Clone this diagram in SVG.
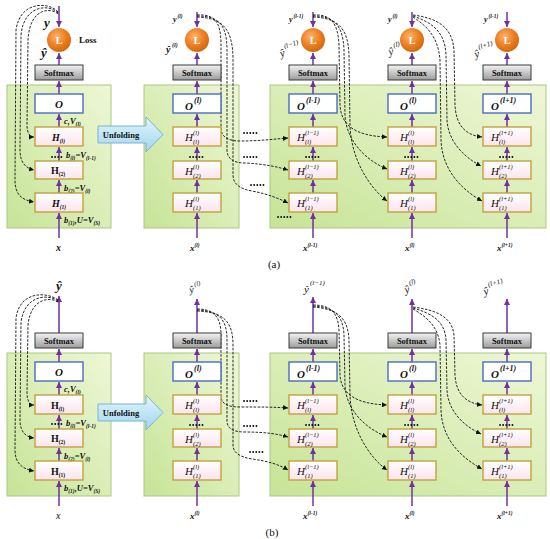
<svg xmlns="http://www.w3.org/2000/svg" width="550" height="539" viewBox="0 0 550 539">
<defs>
<linearGradient id="gp" x1="0" y1="1" x2="1" y2="0"><stop offset="0" stop-color="#c6e497"/><stop offset="1" stop-color="#eef7d6"/></linearGradient>
<linearGradient id="gs" x1="0" y1="0" x2="0" y2="1"><stop offset="0" stop-color="#f4f4f4"/><stop offset="1" stop-color="#9c9c9c"/></linearGradient>
<linearGradient id="gh" x1="0" y1="0" x2="0" y2="1"><stop offset="0" stop-color="#ffffff"/><stop offset="1" stop-color="#fbe4ed"/></linearGradient>
<linearGradient id="gu" x1="0" y1="0" x2="0" y2="1"><stop offset="0" stop-color="#e3f5fc"/><stop offset="1" stop-color="#9fd6ee"/></linearGradient>
<radialGradient id="gl" cx="0.4" cy="0.35" r="0.7"><stop offset="0" stop-color="#fbb36a"/><stop offset="0.6" stop-color="#ec7b1e"/><stop offset="1" stop-color="#c8680f"/></radialGradient>
<marker id="pa" markerUnits="userSpaceOnUse" markerWidth="7" markerHeight="6" refX="6" refY="3" orient="auto"><path d="M0,0 L6,3 L0,6 Z" fill="#7030a0"/></marker>
<marker id="ba" markerUnits="userSpaceOnUse" markerWidth="6" markerHeight="5" refX="5" refY="2.5" orient="auto"><path d="M0,0 L5,2.5 L0,5 Z" fill="#111"/></marker>
</defs>
<style>
.panel{fill:url(#gp);stroke:#a9c97e;stroke-width:1}
.sm{fill:url(#gs);stroke:#3a3a3a;stroke-width:1}
.ob{fill:#fff;stroke:#4a6bc4;stroke-width:1.4}
.hb{fill:url(#gh);stroke:#c4a13c;stroke-width:1.4}
.loss{fill:url(#gl)}
.unf{fill:url(#gu);stroke:#7ab3d3;stroke-width:1}
.pl{stroke:#7030a0;stroke-width:1.5;fill:none;marker-end:url(#pa)}
.dl{stroke:#111;stroke-width:0.9;fill:none;stroke-dasharray:2.6 1.4;marker-end:url(#ba)}
.dots{stroke:#111;stroke-width:1.8;stroke-dasharray:0.1 3;stroke-linecap:round;fill:none}
text{font-family:"Liberation Serif",serif;fill:#111}
.b{font-weight:bold}
.i{font-style:italic}
.bi{font-weight:bold;font-style:italic}
.smt{font-weight:bold;font-size:8.5px;text-anchor:middle}
.L{font-weight:bold;font-size:10px;fill:#fff;text-anchor:middle}
.H{font-style:italic;font-size:11px}
.s{font-style:italic;font-size:6.5px}
.cap{font-size:11px;text-anchor:middle}
</style>

<!-- panels -->
<g id="panels">
<rect class="panel" x="7" y="85" width="104" height="143"/>
<rect class="panel" x="144" y="85" width="95" height="143"/>
<rect class="panel" x="270" y="85" width="276" height="143"/>
<rect class="panel" x="7" y="353" width="104" height="143"/>
<rect class="panel" x="144" y="353" width="95" height="143"/>
<rect class="panel" x="270" y="353" width="276" height="143"/>
</g>

<!-- unfolding arrows -->
<g id="a-unfolding"><path class="unf" d="M98,126 H146 V117 L163,134.5 L146,152 V143 H98 Z"/><text class="b" x="121" y="138" font-size="8.5" text-anchor="middle" fill="#1f3050">Unfolding</text></g>
<g id="b-unfolding"><path class="unf" d="M98,404 H146 V395 L163,412.5 L146,430 V421 H98 Z"/><text class="b" x="121" y="416" font-size="8.5" text-anchor="middle" fill="#1f3050">Unfolding</text></g>

<!-- connectors -->
<g id="connectors">
<!-- (a) purple column arrows -->
<path class="pl" d="M59,6 V27"/><path class="pl" d="M59,65 V53"/><path class="pl" d="M59,94 V81"/><path class="pl" d="M59,127 V114"/><path class="pl" d="M59,161 V147"/><path class="pl" d="M59,193 V180"/><path class="pl" d="M59,238 V213"/>
<path class="pl" d="M197,12 V27"/><path class="pl" d="M197,65 V53"/><path class="pl" d="M197,94 V81"/><path class="pl" d="M197,127 V114"/><path class="pl" d="M197,161 V147"/><path class="pl" d="M197,193 V180"/><path class="pl" d="M197,238 V213"/>
<path class="pl" d="M313,12 V27"/><path class="pl" d="M313,65 V53"/><path class="pl" d="M313,94 V81"/><path class="pl" d="M313,127 V114"/><path class="pl" d="M313,161 V147"/><path class="pl" d="M313,193 V180"/><path class="pl" d="M313,238 V213"/>
<path class="pl" d="M412,12 V27"/><path class="pl" d="M412,65 V53"/><path class="pl" d="M412,94 V81"/><path class="pl" d="M412,127 V114"/><path class="pl" d="M412,161 V147"/><path class="pl" d="M412,193 V180"/><path class="pl" d="M412,238 V213"/>
<path class="pl" d="M507,12 V27"/><path class="pl" d="M507,65 V53"/><path class="pl" d="M507,94 V81"/><path class="pl" d="M507,127 V114"/><path class="pl" d="M507,161 V147"/><path class="pl" d="M507,193 V180"/><path class="pl" d="M507,238 V213"/>
<!-- (b) purple column arrows -->
<path class="pl" d="M59,333 V296"/><path class="pl" d="M59,362 V349"/><path class="pl" d="M59,395 V382"/><path class="pl" d="M59,429 V415"/><path class="pl" d="M59,461 V448"/><path class="pl" d="M59,506 V481"/>
<path class="pl" d="M197,333 V299"/><path class="pl" d="M197,362 V349"/><path class="pl" d="M197,395 V382"/><path class="pl" d="M197,429 V415"/><path class="pl" d="M197,461 V448"/><path class="pl" d="M197,506 V481"/>
<path class="pl" d="M313,333 V297"/><path class="pl" d="M313,362 V349"/><path class="pl" d="M313,395 V382"/><path class="pl" d="M313,429 V415"/><path class="pl" d="M313,461 V448"/><path class="pl" d="M313,506 V481"/>
<path class="pl" d="M412,333 V299"/><path class="pl" d="M412,362 V349"/><path class="pl" d="M412,395 V382"/><path class="pl" d="M412,429 V415"/><path class="pl" d="M412,461 V448"/><path class="pl" d="M412,506 V481"/>
<path class="pl" d="M507,333 V299"/><path class="pl" d="M507,362 V349"/><path class="pl" d="M507,395 V382"/><path class="pl" d="M507,429 V415"/><path class="pl" d="M507,461 V448"/><path class="pl" d="M507,506 V481"/>

<!-- (a) dashed: panel 1 -->
<path class="dl" d="M58,12 C50,2 20,0 16,30 L15,180 C15,195 22,200 34,202"/>
<path class="dl" d="M58,13 C50,4 24,4 21,35 L20,150 C20,162 25,168 34,170"/>
<path class="dl" d="M58,14 C52,8 30,6 28,40 L27,125 C27,133 30,137 34,137"/>
<!-- (a) dashed: panel 2 to column l-1 -->
<path class="dl" d="M197,15 C215,14 221,22 221,45 L221,128 C221,137 228,141 240,141 C260,141 275,139 288,138"/>
<path class="dl" d="M197,16 C218,16 227,24 227,50 L227,150 C227,159 234,163 245,163 C265,164 278,167 288,170"/>
<path class="dl" d="M197,17 C222,18 233,28 233,60 L233,175 C233,184 240,189 252,191 C268,194 280,199 288,203"/>
<!-- (a) dashed: column l-1 to column l -->
<path class="dl" d="M313,15 C330,14 338,22 339,45 L340,105 C341,125 355,136 387,137"/>
<path class="dl" d="M313,16 C334,16 343,25 344,50 L345,115 C346,140 365,160 387,169"/>
<path class="dl" d="M313,17 C338,18 348,28 349,55 L350,125 C351,160 370,188 387,201"/>
<!-- (a) dashed: column l to column l+1 -->
<path class="dl" d="M413,15 C435,18 452,25 454,50 L455,105 C456,125 465,135 482,137"/>
<path class="dl" d="M413,16 C430,22 445,30 446,55 L447,120 C448,140 462,156 481,166"/>
<path class="dl" d="M413,17 C425,25 438,35 440,60 L441,140 C442,170 462,190 482,201"/>

<!-- (b) dashed: panel 1 -->
<path class="dl" d="M58,300 C48,292 20,290 16,318 L15,450 C15,463 22,469 34,471"/>
<path class="dl" d="M58,301 C49,294 25,294 21,322 L20,420 C20,431 25,437 34,438"/>
<path class="dl" d="M58,302 C51,297 31,297 28,325 L27,393 C27,401 30,405 34,405"/>
<!-- (b) dashed: panel 2 to column l-1 -->
<path class="dl" d="M197,309 C213,309 221,316 221,335 L221,396 C221,404 228,407 240,407 C260,407 275,407 288,408"/>
<path class="dl" d="M197,310 C218,311 227,318 227,340 L227,421 C227,429 234,432 245,432 C265,432 278,434 288,437"/>
<path class="dl" d="M197,311 C222,312 233,320 233,345 L233,445 C233,453 240,457 252,459 C268,461 280,465 288,470"/>
<!-- (b) dashed: column l-1 to column l -->
<path class="dl" d="M313,305 C330,305 338,312 339,330 L340,375 C341,393 355,404 387,405"/>
<path class="dl" d="M313,306 C334,307 343,315 344,335 L345,385 C346,410 365,428 387,437"/>
<path class="dl" d="M313,307 C338,309 348,318 349,340 L350,395 C351,430 370,458 387,470"/>
<!-- (b) dashed: column l to column l+1 -->
<path class="dl" d="M413,307 C435,310 452,316 454,335 L455,375 C456,393 465,403 482,405"/>
<path class="dl" d="M413,308 C430,313 445,320 446,340 L447,390 C448,410 462,425 481,434"/>
<path class="dl" d="M413,309 C425,316 438,325 440,345 L441,410 C442,440 462,458 482,469"/>

<!-- dots -->
<path class="dots" d="M52,157 H62 M190,157 H204 M306,157 H320 M405,157 H419 M500,157 H514 M244,133 H257 M244,157 H257 M251,185 H264 M278,217 H291"/>
<path class="dots" d="M52,424 H62 M190,425 H204 M306,425 H320 M405,425 H419 M500,425 H514 M244,401 H257 M244,426 H257 M250,452 H263"/>
</g>

<!-- ================= (a) nodes ================= -->
<g id="a-c1">
<text class="bi" x="44" y="27" font-size="13">y</text>
<circle class="loss" cx="59" cy="40" r="12"/><text class="L" x="59" y="44">L</text>
<text class="b" x="79" y="43" font-size="9">Loss</text>
<text class="bi" x="41" y="57" font-size="13">ŷ</text>
<rect class="sm" x="35" y="65" width="48" height="15"/><text class="smt" x="59" y="76">Softmax</text>
<rect class="ob" x="35" y="94" width="48" height="19"/><text class="bi" x="59" y="108" font-size="11" text-anchor="middle">O</text>
<text class="bi" x="64" y="124" font-size="8.5">c,V<tspan dy="2" font-size="5.5">(l)</tspan></text>
<rect class="hb" x="35" y="127" width="48" height="19"/><text class="bi" x="52" y="141" font-size="10">H<tspan dy="2" font-size="5.5">(l)</tspan></text>
<text class="bi" x="66" y="158" font-size="8.5">b<tspan dy="2" font-size="5.5">(l)</tspan><tspan dy="-2">=V</tspan><tspan dy="2" font-size="5.5">(l-1)</tspan></text>
<rect class="hb" x="35" y="161" width="48" height="18"/><text class="b" x="51" y="174" font-size="10">H<tspan dy="2" font-size="5.5">(2)</tspan></text>
<text class="bi" x="64" y="191" font-size="8.5">b<tspan dy="2" font-size="5.5">(2)</tspan><tspan dy="-2">=V</tspan><tspan dy="2" font-size="5.5">(l)</tspan></text>
<rect class="hb" x="35" y="193" width="48" height="19"/><text class="bi" x="52" y="207" font-size="10">H<tspan dy="2" font-size="5.5">(1)</tspan></text>
<text class="bi" x="64" y="223" font-size="8.5">b<tspan dy="2" font-size="5.5">(1)</tspan><tspan dy="-2">,U=V</tspan><tspan dy="2" font-size="5.5">(S)</tspan></text>
<text class="bi" x="56" y="251" font-size="10">x</text>
</g>

<g id="a-c2">
<text class="bi" x="173" y="22" font-size="8">y</text><text class="bi" x="177.5" y="18" font-size="5.5">(l)</text>
<circle class="loss" cx="197" cy="40" r="12"/><text class="L" x="197" y="44">L</text>
<text class="bi" x="166" y="53" font-size="10">ŷ</text><text class="bi" x="172" y="47" font-size="6">(l)</text>
<rect class="sm" x="173" y="65" width="48" height="15"/><text class="smt" x="197" y="76">Softmax</text>
<rect class="ob" x="173" y="94" width="48" height="19"/><text class="bi" x="185" y="110" font-size="11">O</text><text class="bi" x="194" y="103" font-size="8">(l)</text>
<rect class="hb" x="173" y="127" width="48" height="19"/><text class="H" x="185" y="141">H</text><text class="s" x="193" y="135">(l)</text><text class="s" x="193" y="144">(l)</text>
<rect class="hb" x="173" y="161" width="48" height="18"/><text class="H" x="185" y="175">H</text><text class="s" x="193" y="169">(l)</text><text class="s" x="193" y="178">(2)</text>
<rect class="hb" x="173" y="193" width="48" height="19"/><text class="H" x="185" y="207">H</text><text class="s" x="193" y="201">(l)</text><text class="s" x="193" y="210">(1)</text>
<text class="bi" x="190" y="251" font-size="9">x</text><text class="bi" x="194.5" y="247" font-size="5.5">(l)</text>
</g>

<g id="a-c3">
<text class="bi" x="289" y="22" font-size="8">y</text><text class="bi" x="293.5" y="18" font-size="5.5">(l-1)</text>
<circle class="loss" cx="313" cy="40" r="12"/><text class="L" x="313" y="44">L</text>
<g transform="rotate(-18 290 49)"><text class="i" x="279" y="54" font-size="11">ŷ</text><text class="i" x="285" y="47" font-size="7">(l−1)</text></g>
<rect class="sm" x="289" y="65" width="48" height="15"/><text class="smt" x="313" y="76">Softmax</text>
<rect class="ob" x="289" y="94" width="48" height="19"/><text class="bi" x="297" y="110" font-size="11">O</text><text class="bi" x="306" y="103" font-size="8">(l-1)</text>
<rect class="hb" x="289" y="127" width="48" height="19"/><text class="H" x="297" y="141">H</text><text class="s" x="305" y="135">(l−1)</text><text class="s" x="305" y="144">(l)</text>
<rect class="hb" x="289" y="161" width="48" height="18"/><text class="H" x="297" y="175">H</text><text class="s" x="305" y="169">(l−1)</text><text class="s" x="305" y="178">(2)</text>
<rect class="hb" x="289" y="193" width="48" height="19"/><text class="H" x="297" y="207">H</text><text class="s" x="305" y="201">(l−1)</text><text class="s" x="305" y="210">(1)</text>
<text class="bi" x="303" y="251" font-size="9">x</text><text class="bi" x="307.5" y="247" font-size="5.5">(l-1)</text>
</g>

<g id="a-c4">
<text class="bi" x="388" y="22" font-size="8">y</text><text class="bi" x="392.5" y="18" font-size="5.5">(l)</text>
<circle class="loss" cx="412" cy="40" r="12"/><text class="L" x="412" y="44">L</text>
<g transform="rotate(-12 396 49)"><text class="i" x="388" y="54" font-size="11">ŷ</text><text class="i" x="394" y="47" font-size="7">(l)</text></g>
<rect class="sm" x="388" y="65" width="48" height="15"/><text class="smt" x="412" y="76">Softmax</text>
<rect class="ob" x="388" y="94" width="48" height="19"/><text class="bi" x="400" y="110" font-size="11">O</text><text class="bi" x="409" y="103" font-size="8">(l)</text>
<rect class="hb" x="388" y="127" width="48" height="19"/><text class="H" x="400" y="141">H</text><text class="s" x="408" y="135">(l)</text><text class="s" x="408" y="144">(l)</text>
<rect class="hb" x="388" y="161" width="48" height="18"/><text class="H" x="400" y="175">H</text><text class="s" x="408" y="169">(l)</text><text class="s" x="408" y="178">(2)</text>
<rect class="hb" x="388" y="193" width="48" height="19"/><text class="H" x="400" y="207">H</text><text class="s" x="408" y="201">(l)</text><text class="s" x="408" y="210">(1)</text>
<text class="bi" x="405" y="251" font-size="9">x</text><text class="bi" x="409.5" y="247" font-size="5.5">(l)</text>
</g>

<g id="a-c5">
<text class="bi" x="484" y="22" font-size="8">y</text><text class="bi" x="488.5" y="18" font-size="5.5">(l-1)</text>
<circle class="loss" cx="507" cy="40" r="12"/><text class="L" x="507" y="44">L</text>
<g transform="rotate(-18 484 49)"><text class="i" x="473" y="55" font-size="11">ŷ</text><text class="i" x="479" y="48" font-size="7">(l+1)</text></g>
<rect class="sm" x="483" y="65" width="48" height="15"/><text class="smt" x="507" y="76">Softmax</text>
<rect class="ob" x="483" y="94" width="48" height="19"/><text class="bi" x="491" y="110" font-size="11">O</text><text class="bi" x="500" y="103" font-size="8">(l+1)</text>
<rect class="hb" x="483" y="127" width="48" height="19"/><text class="H" x="491" y="141">H</text><text class="s" x="499" y="135">(l+1)</text><text class="s" x="499" y="144">(l)</text>
<rect class="hb" x="483" y="161" width="48" height="18"/><text class="H" x="491" y="175">H</text><text class="s" x="499" y="169">(l+1)</text><text class="s" x="499" y="178">(2)</text>
<rect class="hb" x="483" y="193" width="48" height="19"/><text class="H" x="491" y="207">H</text><text class="s" x="499" y="201">(l+1)</text><text class="s" x="499" y="210">(1)</text>
<text class="bi" x="497" y="251" font-size="9">x</text><text class="bi" x="501.5" y="247" font-size="5.5">(l+1)</text>
</g>

<text id="cap-a" class="cap" x="274" y="268">(a)</text>

<!-- ================= (b) nodes ================= -->
<g id="b-c1">
<text class="bi" x="59" y="290" font-size="13" text-anchor="middle">ŷ</text>
<rect class="sm" x="35" y="333" width="48" height="15"/><text class="smt" x="59" y="344">Softmax</text>
<rect class="ob" x="35" y="362" width="48" height="19"/><text class="bi" x="59" y="376" font-size="11" text-anchor="middle">O</text>
<text class="bi" x="64" y="392" font-size="8.5">c,V<tspan dy="2" font-size="5.5">(l)</tspan></text>
<rect class="hb" x="35" y="395" width="48" height="19"/><text class="b" x="51" y="409" font-size="10">H<tspan dy="2" font-size="5.5">(l)</tspan></text>
<text class="bi" x="66" y="426" font-size="8.5">b<tspan dy="2" font-size="5.5">(l)</tspan><tspan dy="-2">=V</tspan><tspan dy="2" font-size="5.5">(l-1)</tspan></text>
<rect class="hb" x="35" y="429" width="48" height="18"/><text class="b" x="51" y="442" font-size="10">H<tspan dy="2" font-size="5.5">(2)</tspan></text>
<text class="bi" x="64" y="459" font-size="8.5">b<tspan dy="2" font-size="5.5">(2)</tspan><tspan dy="-2">=V</tspan><tspan dy="2" font-size="5.5">(l)</tspan></text>
<rect class="hb" x="35" y="461" width="48" height="19"/><text class="b" x="51" y="475" font-size="10">H<tspan dy="2" font-size="5.5">(1)</tspan></text>
<text class="bi" x="64" y="491" font-size="8.5">b<tspan dy="2" font-size="5.5">(1)</tspan><tspan dy="-2">,U=V</tspan><tspan dy="2" font-size="5.5">(S)</tspan></text>
<text class="i" x="56" y="519" font-size="10">x</text>
</g>

<g id="b-c2">
<g transform="rotate(-12 196 288)"><text class="i" x="189" y="292" font-size="10">ŷ</text><text class="i" x="195" y="286" font-size="6.5">(l)</text></g>
<rect class="sm" x="173" y="333" width="48" height="15"/><text class="smt" x="197" y="344">Softmax</text>
<rect class="ob" x="173" y="362" width="48" height="19"/><text class="bi" x="185" y="378" font-size="11">O</text><text class="bi" x="194" y="371" font-size="8">(l)</text>
<rect class="hb" x="173" y="395" width="48" height="19"/><text class="H" x="185" y="409">H</text><text class="s" x="193" y="403">(l)</text><text class="s" x="193" y="412">(l)</text>
<rect class="hb" x="173" y="429" width="48" height="18"/><text class="H" x="185" y="443">H</text><text class="s" x="193" y="437">(l)</text><text class="s" x="193" y="446">(2)</text>
<rect class="hb" x="173" y="461" width="48" height="19"/><text class="H" x="185" y="475">H</text><text class="s" x="193" y="469">(l)</text><text class="s" x="193" y="478">(1)</text>
<text class="bi" x="190" y="519" font-size="9">x</text><text class="bi" x="194.5" y="515" font-size="5.5">(l)</text>
</g>

<g id="b-c3">
<text class="i" x="304" y="293" font-size="11">ŷ</text><text class="i" x="310" y="285" font-size="7">(l−1)</text>
<rect class="sm" x="289" y="333" width="48" height="15"/><text class="smt" x="313" y="344">Softmax</text>
<rect class="ob" x="289" y="362" width="48" height="19"/><text class="bi" x="297" y="378" font-size="11">O</text><text class="bi" x="306" y="371" font-size="8">(l-1)</text>
<rect class="hb" x="289" y="395" width="48" height="19"/><text class="H" x="297" y="409">H</text><text class="s" x="305" y="403">(l−1)</text><text class="s" x="305" y="412">(l)</text>
<rect class="hb" x="289" y="429" width="48" height="18"/><text class="H" x="297" y="443">H</text><text class="s" x="305" y="437">(l−1)</text><text class="s" x="305" y="446">(2)</text>
<rect class="hb" x="289" y="461" width="48" height="19"/><text class="H" x="297" y="475">H</text><text class="s" x="305" y="469">(l−1)</text><text class="s" x="305" y="478">(1)</text>
<text class="bi" x="303" y="519" font-size="9">x</text><text class="bi" x="307.5" y="515" font-size="5.5">(l-1)</text>
</g>

<g id="b-c4">
<g transform="rotate(-15 410 287)"><text class="i" x="404" y="292" font-size="11">ŷ</text><text class="i" x="410" y="285" font-size="7">(l)</text></g>
<rect class="sm" x="388" y="333" width="48" height="15"/><text class="smt" x="412" y="344">Softmax</text>
<rect class="ob" x="388" y="362" width="48" height="19"/><text class="bi" x="400" y="378" font-size="11">O</text><text class="bi" x="409" y="371" font-size="8">(l)</text>
<rect class="hb" x="388" y="395" width="48" height="19"/><text class="H" x="400" y="409">H</text><text class="s" x="408" y="403">(l)</text><text class="s" x="408" y="412">(l)</text>
<rect class="hb" x="388" y="429" width="48" height="18"/><text class="H" x="400" y="443">H</text><text class="s" x="408" y="437">(l)</text><text class="s" x="408" y="446">(2)</text>
<rect class="hb" x="388" y="461" width="48" height="19"/><text class="H" x="400" y="475">H</text><text class="s" x="408" y="469">(l)</text><text class="s" x="408" y="478">(1)</text>
<text class="bi" x="405" y="519" font-size="9">x</text><text class="bi" x="409.5" y="515" font-size="5.5">(l)</text>
</g>

<g id="b-c5">
<g transform="rotate(-15 492 288)"><text class="i" x="483" y="293" font-size="11">ŷ</text><text class="i" x="489" y="286" font-size="7">(l+1)</text></g>
<rect class="sm" x="483" y="333" width="48" height="15"/><text class="smt" x="507" y="344">Softmax</text>
<rect class="ob" x="483" y="362" width="48" height="19"/><text class="bi" x="491" y="378" font-size="11">O</text><text class="bi" x="500" y="371" font-size="8">(l+1)</text>
<rect class="hb" x="483" y="395" width="48" height="19"/><text class="H" x="491" y="409">H</text><text class="s" x="499" y="403">(l+1)</text><text class="s" x="499" y="412">(l)</text>
<rect class="hb" x="483" y="429" width="48" height="18"/><text class="H" x="491" y="443">H</text><text class="s" x="499" y="437">(l+1)</text><text class="s" x="499" y="446">(2)</text>
<rect class="hb" x="483" y="461" width="48" height="19"/><text class="H" x="491" y="475">H</text><text class="s" x="499" y="469">(l+1)</text><text class="s" x="499" y="478">(1)</text>
<text class="bi" x="497" y="519" font-size="9">x</text><text class="bi" x="501.5" y="515" font-size="5.5">(l+1)</text>
</g>

<text id="cap-b" class="cap" x="272" y="536">(b)</text>
</svg>
